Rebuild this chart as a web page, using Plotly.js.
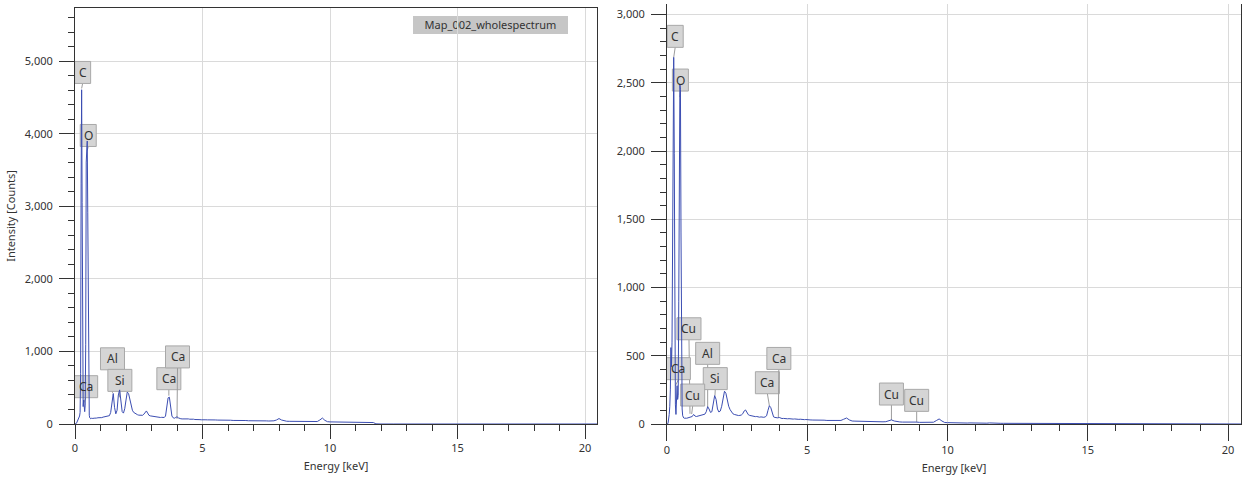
<!DOCTYPE html>
<html>
<head>
<meta charset="utf-8">
<script src="https://cdn.plot.ly/plotly-3.0.1.min.js"></script>
<style>html,body{margin:0;padding:0;background:#fff;}#chart{width:1242px;height:483px;}</style>
</head>
<body>
<div id="chart"></div>
<script>
// ---- DATA ----
const energy = [
  0,0.02,0.04,0.06,0.08,0.1,0.12,0.14,0.16,0.18,
  0.2,0.22,0.24,0.26,0.28,0.3,0.32,0.34,0.36,0.38,
  0.4,0.42,0.44,0.46,0.48,0.5,0.52,0.54,0.56,0.58,
  0.6,0.62,0.64,0.66,0.68,0.7,
  0.75,0.8,0.85,0.9,0.95,1,1.05,1.1,1.15,1.2,
  1.25,1.3,1.35,1.4,1.45,1.5,1.55,1.6,1.65,1.7,
  1.75,1.8,1.85,1.9,1.95,2,2.05,2.1,2.15,2.2,
  2.25,2.3,2.35,2.4,2.45,2.5,2.55,2.6,2.65,2.7,
  2.75,2.8,2.85,2.9,2.95,3,3.05,3.1,3.15,3.2,
  3.25,3.3,3.35,3.4,3.45,3.5,3.55,3.6,3.65,3.7,
  3.75,3.8,3.85,3.9,3.95,4,4.05,4.1,4.15,4.2,
  4.25,4.3,4.35,4.4,4.45,4.5,4.55,4.6,4.65,4.7,
  4.75,4.8,4.85,4.9,4.95,5,
  5.1,5.2,5.3,5.4,5.5,5.6,5.7,5.8,5.9,6,
  6.1,6.2,6.3,6.4,6.5,6.6,6.7,6.8,6.9,7,
  7.1,7.2,7.3,7.4,7.5,7.6,7.7,7.8,7.9,8,
  8.1,8.2,8.3,8.4,8.5,8.6,8.7,8.8,8.9,9,
  9.1,9.2,9.3,9.4,9.5,9.6,9.7,9.8,9.9,10,
  10.1,10.2,10.3,10.4,10.5,10.6,10.7,10.8,10.9,11,
  11.1,11.2,11.3,11.4,11.5,11.6,11.7,11.8,11.9,12,
  12.5,13,13.5,14,14.5,15,15.5,16,16.5,17,17.5,18,18.5,19,19.5,20,20.5
];

const leftCounts = [
  0,0,4,12,25,40,55,70,85,110,
  160,700,3320,4607,3050,900,240,330,210,170,
  260,1100,3610,3780,3900,2920,1200,300,120,85,
  75,72,78,74,80,77,
  80,78,82,86,84,90,88,95,98,100,
  104,108,115,160,330,420,230,140,190,400,
  470,300,170,150,210,330,440,420,330,240,
  190,160,145,135,128,122,118,115,120,135,
  165,180,150,120,112,108,104,100,98,96,
  94,92,90,92,88,90,110,230,360,370,
  220,110,85,80,90,100,85,75,72,70,
  72,68,70,75,70,66,68,64,66,62,
  64,60,62,60,58,60,
  58,57,59,55,56,54,55,52,53,50,
  52,49,50,54,48,47,48,45,46,44,
  45,43,44,42,43,41,42,44,55,75,
  55,42,38,37,36,35,36,34,35,33,
  34,32,33,31,34,55,82,50,32,29,
  28,27,28,26,27,25,26,24,25,24,
  23,24,22,23,22,21,20,2,0,0,
  0,0,1,0,0,0,0,0,0,0,2,0,1,0,0,0,0
];

const rightCounts = [
  0,0,8,30,70,130,250,560,420,600,
  1300,2130,2687,1980,600,140,70,150,281,180,
  210,900,1664,2491,2450,1400,380,110,60,48,
  44,42,44,41,43,42,
  44,46,48,55,70,58,55,58,60,62,
  65,70,72,90,127,110,85,90,150,208,
  180,110,88,95,130,190,240,225,170,130,
  105,85,75,70,66,64,62,63,66,75,
  95,103,85,68,63,60,58,56,54,55,
  52,50,52,50,49,52,60,100,134,120,
  75,52,48,46,45,48,42,40,41,39,
  40,38,39,37,38,36,37,35,36,34,
  35,33,34,32,33,31,
  30,29,30,28,27,28,26,25,26,24,
  25,26,35,44,30,22,21,20,21,19,
  20,18,19,17,18,17,16,17,22,30,
  22,16,15,14,15,13,14,13,14,12,
  13,12,11,12,13,25,37,22,11,10,
  9,10,9,8,9,8,7,8,7,8,
  7,6,7,6,8,6,5,6,5,5,
  5,4,5,4,3,4,3,3,2,3,2,1,0,2,0,0,0
];

// element markers: name, line energy (keV), marker height (counts)
const leftLabelNames  = ['C','O','Ca','Al','Si','Ca','Ca'];
const leftLabelEnergy = [0.26,0.48,0.34,1.47,1.74,3.68,4.00];
const leftLabelTip    = [4625,3770,280,430,367,390,70];

const rightLabelNames  = ['C','O','Cu','Al','Ca','Si','Cu','Ca','Ca','Cu','Cu'];
const rightLabelEnergy = [0.24,0.46,0.82,1.45,0.30,1.71,0.88,3.65,3.97,8.00,8.90];
const rightLabelTip    = [2687,2396,75,122,281,208,73,134,48,29,12];

const xTickVals = [0,5,10,15,20];
const legendText = 'Map_002_wholespectrum';

// ---- STYLE (box offsets in pixels: dx right, dy up from marker tip) ----
const leftBoxStyle  = {dx:[1,1,2,0,0.5,0,0.5], dy:[16,15,17,34,17,17,62]};
const rightBoxStyle = {dx:[1.5,0.5,-1,0,3,0.3,1,-2,0.5,0,0], dy:[21,17,85,54,17,17,19,23,59,26,22]};

const lineColor = '#3b4db2';
const gridColor = '#dadada';
const axisColor = '#333333';
const fontFam = 'Noto Sans, Open Sans, sans-serif';

function markerShapes(names, energies, tips, st, xref, yref) {
  const out = [];
  names.forEach((n, i) => {
    const w = 8 + 8 * n.length, h = 22;
    const dx = st.dx[i], dy = st.dy[i];
    out.push({
      type:'line', xref:xref, yref:yref, layer:'between',
      xsizemode:'pixel', ysizemode:'pixel',
      xanchor:energies[i], yanchor:tips[i],
      x0:0, y0:0, x1:dx, y1:dy - h/2,
      line:{color:'#9c9c9c', width:1}
    });
    out.push({
      type:'rect', xref:xref, yref:yref, layer:'between',
      xsizemode:'pixel', ysizemode:'pixel',
      xanchor:energies[i], yanchor:tips[i],
      x0:dx - w/2, x1:dx + w/2, y0:dy - h/2, y1:dy + h/2,
      fillcolor:'#d5d5d5', line:{color:'#a8a8a8', width:1}
    });
  });
  return out;
}
function markerTexts(names, energies, tips, st, xref, yref) {
  return names.map((n, i) => ({
    xref:xref, yref:yref, x:energies[i], y:tips[i],
    text:n, showarrow:true, arrowcolor:'rgba(0,0,0,0)', arrowwidth:0.1,
    ax:st.dx[i], ay:-st.dy[i], xanchor:'center', yanchor:'middle',
    font:{family:fontFam, size:12, color:'#333'}
  }));
}

const traces = [
  {x:energy, y:leftCounts, type:'scatter', mode:'lines', xaxis:'x', yaxis:'y',
   line:{color:lineColor, width:1}, hoverinfo:'skip'},
  {x:energy, y:rightCounts, type:'scatter', mode:'lines', xaxis:'x2', yaxis:'y2',
   line:{color:lineColor, width:1}, hoverinfo:'skip'}
];

function xAxis(domain, range, anchor, mirror, ticklen) {
  return {
    domain:domain, range:range, anchor:anchor,
    tickmode:'array', tickvals:xTickVals,
    ticks:'outside', ticklen:ticklen, tickwidth:1, tickcolor:axisColor,
    showline:true, linecolor:axisColor, linewidth:1, mirror:mirror,
    showgrid:true, gridcolor:gridColor, gridwidth:1, zeroline:false,
    minor:{dtick:1, tick0:0, ticks:'outside', ticklen:6, tickcolor:axisColor, showgrid:false},
    tickfont:{size:11, color:'#333'},
    title:{text:'Energy [keV]', font:{size:11, color:'#333'}, standoff:8},
    fixedrange:true
  };
}
function yAxis(domain, range, anchor, dtick, minorDtick, mirror, titleText) {
  const ax = {
    domain:domain, range:range, anchor:anchor,
    dtick:dtick, tick0:0, tickformat:',d',
    ticks:'outside', ticklen:15, tickwidth:1, tickcolor:axisColor,
    ticklabelstandoff:4,
    showline:true, linecolor:axisColor, linewidth:1, mirror:mirror,
    showgrid:true, gridcolor:gridColor, gridwidth:1, zeroline:false,
    minor:{dtick:minorDtick, tick0:0, ticks:'outside', ticklen:6, tickcolor:axisColor, showgrid:false},
    tickfont:{size:11, color:'#333'},
    fixedrange:true
  };
  if (titleText) ax.title = {text:titleText, font:{size:11, color:'#333'}, standoff:6};
  return ax;
}

const shapes = []
  .concat([{
    type:'rect', xref:'paper', yref:'paper', layer:'below',
    x0:(413-75)/1166, x1:(568-75)/1166, y0:(483-59-34)/420, y1:(483-59-16)/420,
    fillcolor:'#c6c6c6', line:{width:0},
    label:{text:legendText, font:{family:fontFam, size:11, color:'#333'}, textposition:'middle center'}
  }])
  .concat(markerShapes(leftLabelNames, leftLabelEnergy, leftLabelTip, leftBoxStyle, 'x', 'y'))
  .concat(markerShapes(rightLabelNames, rightLabelEnergy, rightLabelTip, rightBoxStyle, 'x2', 'y2'));

const annotations = []
  .concat(markerTexts(leftLabelNames, leftLabelEnergy, leftLabelTip, leftBoxStyle, 'x', 'y'))
  .concat(markerTexts(rightLabelNames, rightLabelEnergy, rightLabelTip, rightBoxStyle, 'x2', 'y2'));

const layout = {
  width:1242, height:483,
  margin:{l:75, r:1, t:4, b:59, pad:0},
  paper_bgcolor:'rgba(0,0,0,0)', plot_bgcolor:'rgba(0,0,0,0)',
  font:{family:fontFam, size:11, color:'#333'},
  showlegend:false,
  xaxis:xAxis([0, 0.4477], [0, 20.47], 'y', true, 14),
  yaxis:yAxis([0, 0.9905], [0, 5734], 'x', 1000, 200, true, 'Intensity [Counts]'),
  xaxis2:xAxis([0.5077, 1], [0, 20.46], 'y2', false, 16),
  yaxis2:yAxis([0, 1], [0, 3078], 'x2', 500, 100, true, null),
  shapes:shapes,
  annotations:annotations
};

Plotly.newPlot('chart', traces, layout, {staticPlot:true, displayModeBar:false});
</script>
</body>
</html>
